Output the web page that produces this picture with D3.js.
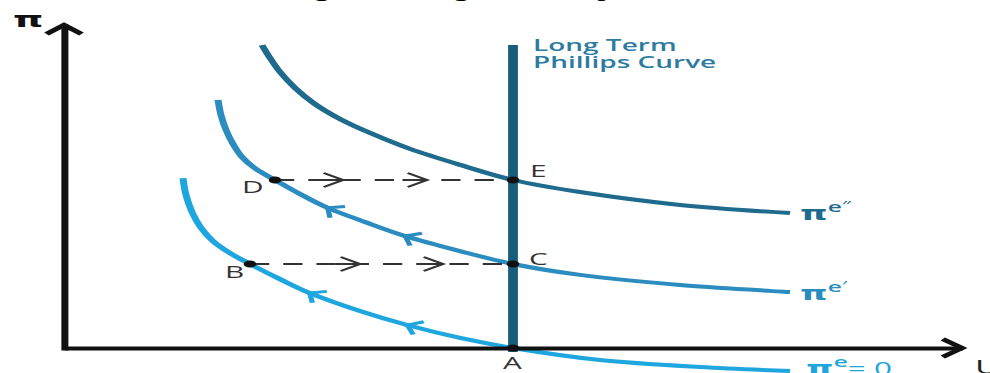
<!DOCTYPE html>
<html><head><meta charset="utf-8">
<script src="https://cdn.jsdelivr.net/npm/d3@7"></script>
<style>body{margin:0;background:#fff}svg{display:block}</style>
</head><body><svg id="chart" width="990" height="373"></svg>
<script>
// ---------- data ----------
const title = "Figure 1: Long Run Phillips Curve";
const xLabel = "U";
const yLabel = "π";
const lrpcLabel = ["Long Term", "Phillips Curve"];
const naturalRate = 5;
const lrpcTop = 10.82;
// short-run Phillips curves as [unemployment, inflation]
const curveHigh = [[2.205,10.82],[2.294,10.36],[2.405,9.86],[2.572,9.29],[2.795,8.71],[3.073,8.18],[3.408,7.68],[3.853,7.11],[4.41,6.54],[5.0,6.0],[5.746,5.57],[6.86,5.11],[8.085,4.82]];
const curveMid  = [[1.715,8.86],[1.748,8.32],[1.804,7.79],[1.882,7.29],[1.982,6.82],[2.138,6.39],[2.35,6.0],[2.628,5.5],[2.94,5.0],[3.352,4.5],[3.797,4.0],[4.41,3.46],[5.0,3.0],[5.746,2.61],[6.86,2.25],[8.085,2.0]];
const curveLow  = [[1.325,6.07],[1.359,5.46],[1.425,4.86],[1.526,4.29],[1.659,3.82],[1.849,3.39],[2.071,3.0],[2.405,2.46],[2.739,1.96],[3.296,1.32],[3.82,0.82],[4.41,0.36],[5.0,0.0],[5.969,-0.43],[7.082,-0.68],[8.085,-0.82]];
const curveNames = ["″", "′", "= 0"];
const curveColors = ["#1e6b8e", "#2a8cbf", "#1ea6de"];
const points = [["D",2.35,6],["E",5,6],["B",2.071,3],["C",5,3],["A",5,0]];
const shifts = [["D","E",[3.107,4.042]],["B","C",[3.296,4.22]]];
const curveArrowU = [[], [2.94,3.797], [2.739,3.82]];

// ---------- chart ----------
const S = 1.75; // horizontal stretch of the original figure
const svg = d3.select("#chart");
const g = svg.append("g").attr("transform", `scale(${S},1)`);
const x = d3.scaleLinear().domain([0, 10]).range([64 / S, 962 / S]);
const y = d3.scaleLinear().domain([0, 11.5]).range([348, 26]);

// title (mostly above the visible area)
g.append("text").attr("x", 290 / S).attr("y", -3)
  .attr("font-family", "Liberation Serif, Times New Roman, serif")
  .attr("font-weight", "bold").attr("font-size", 16).attr("fill", "#000").text(title);

const line = d3.line().x(d => x(d[0])).y(d => y(d[1])).curve(d3.curveCatmullRom.alpha(0.5));
const curves = [curveHigh, curveMid, curveLow];
const paths = curves.map((c, i) => g.append("path").datum(c)
  .attr("d", line).attr("fill", "none")
  .attr("stroke", curveColors[i]).attr("stroke-width", 4));

// curve direction arrows
curves.forEach((c, i) => {
  const node = paths[i].node();
  const L = node.getTotalLength();
  curveArrowU[i].forEach(u => {
    const tx = x(u);
    let best = 0, bd = Infinity;
    for (let l = 0; l <= L; l += 0.5) {
      const p = node.getPointAtLength(l);
      const dd = Math.abs(p.x - tx);
      if (dd < bd) { bd = dd; best = l; }
    }
    const p = node.getPointAtLength(best);
    const a = node.getPointAtLength(Math.max(0, best - 2));
    const b = node.getPointAtLength(Math.min(L, best + 2));
    let dx = b.x - a.x, dy = b.y - a.y; const n = Math.hypot(dx, dy); dx /= n; dy /= n;
    const len = 10, ang = Math.PI / 4;
    const arm = s => [p.x + len * (dx * Math.cos(s * ang) - dy * Math.sin(s * ang)),
                      p.y + len * (dx * Math.sin(s * ang) + dy * Math.cos(s * ang))];
    const a1 = arm(1), a2 = arm(-1);
    g.append("path").attr("d", `M${a1}L${p.x},${p.y}L${a2}`)
      .attr("fill", "none").attr("stroke", curveColors[i]).attr("stroke-width", 3);
  });
});

// long-run Phillips curve
g.append("line").attr("x1", x(naturalRate)).attr("x2", x(naturalRate))
  .attr("y1", y(0) + 4).attr("y2", y(lrpcTop))
  .attr("stroke", "#185d7c").attr("stroke-width", 5.6);
lrpcLabel.forEach((t, i) => g.append("text").attr("font-family", "Open Sans, sans-serif")
  .attr("font-weight", 600).attr("font-size", 16).attr("fill", "#2d7b9e")
  .attr("x", x(naturalRate) + 20 / S).attr("y", 51 + i * 17).text(t));

// axes
const xAxis = g.append("g").attr("transform", `translate(0,${y(0)})`)
  .call(d3.axisBottom(x).tickValues([]).tickSizeOuter(0));
xAxis.select(".domain").attr("stroke", "#111").attr("stroke-width", 4);
const yAxis = g.append("g").attr("transform", `translate(${x(0)},0)`)
  .call(d3.axisLeft(y).tickValues([]).tickSizeOuter(0));
yAxis.select(".domain").attr("stroke", "#111").attr("stroke-width", 4).attr("stroke-linecap", "square");
g.append("path").attr("d", `M${x(0) - 10},${y(11.5) + 8}L${x(0)},${y(11.5) - 1}L${x(0) + 10},${y(11.5) + 8}`)
  .attr("fill", "none").attr("stroke", "#111").attr("stroke-width", 4);
g.append("path").attr("d", `M${x(10) - 11},${y(0) - 9}L${x(10)},${y(0)}L${x(10) - 11},${y(0) + 9}`)
  .attr("fill", "none").attr("stroke", "#111").attr("stroke-width", 4);
g.append("text").attr("x", 13 / S).attr("y", 27).attr("font-family", "DejaVu Sans, sans-serif")
  .attr("font-weight", "bold").attr("font-size", 22).attr("fill", "#111").text(yLabel);
g.append("text").attr("x", 975 / S).attr("y", 374).attr("font-family", "Open Sans, sans-serif")
  .attr("font-size", 20).attr("fill", "#222").text(xLabel);

// expectation shifts (dashed)
const pt = Object.fromEntries(points.map(p => [p[0], p]));
shifts.forEach(([a, b, arrows]) => {
  g.append("line").attr("x1", x(pt[a][1])).attr("x2", x(pt[b][1]))
    .attr("y1", y(pt[a][2])).attr("y2", y(pt[b][2]))
    .attr("stroke", "#333").attr("stroke-width", 2).attr("stroke-dasharray", "11,8");
  arrows.forEach(u => {
    const px = x(u), py = y(pt[a][2]);
    g.append("path").attr("d", `M${px - 11},${py - 7}L${px},${py}L${px - 11},${py + 7}`)
      .attr("fill", "none").attr("stroke", "#333").attr("stroke-width", 2);
    g.append("line").attr("x1", px - 14).attr("x2", px).attr("y1", py).attr("y2", py)
      .attr("stroke", "#333").attr("stroke-width", 2);
  });
});

// points
g.selectAll("circle.pt").data(points).join("circle").attr("class", "pt")
  .attr("cx", d => x(d[1])).attr("cy", d => y(d[2])).attr("r", 3.6).attr("fill", "#111");
const labelOff = {D: [-33, 13], E: [17, -3], B: [-25, 14], C: [16, 1], A: [-10, 21]};
g.selectAll("text.pl").data(points).join("text").attr("class", "pl")
  .attr("x", d => x(d[1]) + labelOff[d[0]][0] / S).attr("y", d => y(d[2]) + labelOff[d[0]][1])
  .attr("font-family", "Open Sans, sans-serif").attr("font-size", 17).attr("fill", "#333")
  .text(d => d[0]);

// curve labels
const labelDY = [7, 8, 4];
curves.forEach((c, i) => {
  const last = c[c.length - 1];
  const t = g.append("text").attr("x", x(last[0]) + (i === 2 ? 16 : 10) / S).attr("y", y(last[1]) + labelDY[i])
    .attr("font-family", "Open Sans, sans-serif").attr("fill", curveColors[i]);
  t.append("tspan").attr("font-family", "DejaVu Sans, sans-serif").attr("font-weight", "bold")
    .attr("font-size", 20).text("π");
  t.append("tspan").attr("font-size", 14).attr("font-weight", 600).attr("dy", -8).text("e");
  if (i < 2) {
    t.append("tspan").attr("font-size", 13).attr("dy", -2).text(curveNames[i]);
  } else {
    t.append("tspan").attr("font-size", 18).attr("dy", 8).text(curveNames[i]);
  }
});
</script></body></html>
